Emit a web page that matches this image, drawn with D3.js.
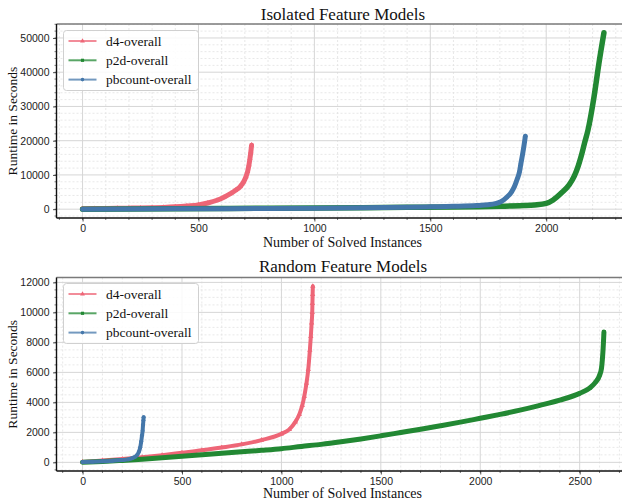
<!DOCTYPE html>
<html><head><meta charset="utf-8">
<script src="https://cdn.jsdelivr.net/npm/d3@7"></script>
<style>body{margin:0;background:#fff}svg{display:block}</style>
</head><body>
<script>
// ---------- DATA ----------
const seriesNames = ["d4-overall", "p2d-overall", "pbcount-overall"];
const seriesColors = ["#EE6677", "#228833", "#4477AA"];
const titles = ["Isolated Feature Models", "Random Feature Models"];

const isoD4 = [[0,150],[50,180],[100,220],[150,260],[200,300],[250,360],[300,430],[350,520],[400,680],[450,930],[500,1250],[540,1800],[580,2600],[610,3500],[640,4600],[660,5500],[680,6600],[695,8000],[705,9500],[712,11000],[718,13000],[722,14800],[726,16800],[729,18700]];
const isoP2d = [[0,0],[200,60],[400,120],[600,200],[800,300],[1000,380],[1200,450],[1400,530],[1600,620],[1700,720],[1800,850],[1900,1050],[1950,1250],[2000,1700],[2030,2700],[2064,4650],[2100,7200],[2122,9800],[2139,12800],[2151,15500],[2165,19200],[2180,23050],[2206,32700],[2227,42400],[2249,51500]];
const isoPb = [[0,0],[200,60],[400,110],[600,160],[800,220],[1000,300],[1200,400],[1400,560],[1500,680],[1600,820],[1700,1050],[1750,1300],[1780,1600],[1805,2200],[1830,3500],[1850,5000],[1863,6600],[1875,8800],[1885,11000],[1891,13400],[1898,16000],[1904,18500],[1910,21300]];

const rndD4 = [[0,30],[100,120],[200,220],[300,340],[400,480],[500,640],[600,800],[700,990],[800,1200],[900,1480],[1000,1900],[1040,2200],[1070,2700],[1090,3200],[1105,3800],[1115,4400],[1126,5270],[1135,6200],[1143,7470],[1148,8400],[1152,9300],[1155,10000],[1156,10600],[1157,11200],[1158,11740]];
const rndP2d = [[0,10],[100,60],[200,130],[300,210],[400,300],[500,400],[600,500],[700,600],[800,700],[900,800],[1000,910],[1100,1060],[1200,1200],[1300,1370],[1400,1560],[1500,1770],[1600,1990],[1700,2210],[1800,2440],[1900,2680],[2000,2940],[2100,3200],[2200,3480],[2300,3800],[2400,4150],[2500,4600],[2550,4950],[2580,5350],[2600,5800],[2610,6300],[2615,7000],[2618,7600],[2620,8100],[2622,8690]];
const rndPb = [[0,20],[50,40],[100,70],[150,100],[200,150],[230,200],[250,280],[265,380],[275,500],[283,700],[290,1000],[295,1400],[299,1800],[302,2100],[304,2500],[306,2800],[307,3010]];

const isoYTicks = [0,10000,20000,30000,40000,50000];
const rndYTicks = [0,2000,4000,6000,8000,10000,12000];
const isoXTicks = [0,500,1000,1500,2000];
const rndXTicks = [0,500,1000,1500,2000,2500];

// ---------- DRAW ----------
const W = 622, H = 502;
const svg = d3.select("body").append("svg").attr("width", W).attr("height", H)
  .style("font-family", "'Liberation Serif', 'Times New Roman', serif");

const symbols = [d3.symbolTriangle, d3.symbolSquare, d3.symbolCircle];

function panel(cfg) {
  const {top, bottom, left, right, series, yTicks, xTicks, yMinor, xMinor, title, titleY, xlabelY, legendY} = cfg;
  const allX = series.flat().map(d => d[0]);
  const allY = series.flat().map(d => d[1]);
  const xmin = d3.min(allX), xmax = d3.max(allX), ymin = d3.min(allY), ymax = d3.max(allY);
  const mx = (xmax - xmin) * 0.05, my = (ymax - ymin) * 0.05;
  const x = d3.scaleLinear().domain([xmin - mx, xmax + mx]).range([left, right]);
  const y = d3.scaleLinear().domain([ymin - my, ymax + my]).range([bottom, top]);
  const g = svg.append("g");
  const clipId = "clip" + top;
  svg.append("clipPath").attr("id", clipId).append("rect")
    .attr("x", left).attr("y", top).attr("width", right - left).attr("height", bottom - top);

  const xMinorVals = d3.range(Math.ceil(x.domain()[0] / xMinor) * xMinor, x.domain()[1], xMinor);
  const yMinorVals = d3.range(Math.ceil(y.domain()[0] / yMinor) * yMinor, y.domain()[1], yMinor);
  // minor grid
  const grid = g.append("g").attr("clip-path", `url(#${clipId})`);
  grid.selectAll(".mgx").data(xMinorVals.filter(v => !xTicks.includes(v))).join("line")
    .attr("x1", d => x(d)).attr("x2", d => x(d)).attr("y1", top).attr("y2", bottom)
    .attr("stroke", "#e2e2e2").attr("stroke-width", 0.8).attr("stroke-dasharray", "2,2");
  grid.selectAll(".mgy").data(yMinorVals.filter(v => !yTicks.includes(v))).join("line")
    .attr("y1", d => y(d)).attr("y2", d => y(d)).attr("x1", left).attr("x2", right)
    .attr("stroke", "#e2e2e2").attr("stroke-width", 0.8).attr("stroke-dasharray", "2,2");
  // major grid
  grid.selectAll(".gx").data(xTicks).join("line")
    .attr("x1", d => x(d)).attr("x2", d => x(d)).attr("y1", top).attr("y2", bottom)
    .attr("stroke", "#d6d6d6").attr("stroke-width", 1);
  grid.selectAll(".gy").data(yTicks).join("line")
    .attr("y1", d => y(d)).attr("y2", d => y(d)).attr("x1", left).attr("x2", right)
    .attr("stroke", "#d6d6d6").attr("stroke-width", 1);

  // series
  const plot = g.append("g").attr("clip-path", `url(#${clipId})`);
  const line = d3.line().curve(d3.curveMonotoneX).x(d => x(d[0])).y(d => y(d[1]));
  series.forEach((s, i) => {
    plot.append("path").datum(s).attr("d", line).attr("fill", "none")
      .attr("stroke", seriesColors[i]).attr("stroke-width", cfg.bandWidth[i])
      .attr("stroke-linejoin", "round").attr("stroke-linecap", "round");
    plot.selectAll(null).data(s).join("path")
      .attr("transform", d => `translate(${x(d[0])},${y(d[1])})`)
      .attr("d", d3.symbol().type(symbols[i]).size(12))
      .attr("fill", seriesColors[i]);
  });

  // axes
  const xAxis = d3.axisBottom(x).tickValues(xTicks).tickSize(3.5).tickPadding(3.5).tickFormat(d3.format("d"));
  const yAxis = d3.axisLeft(y).tickValues(yTicks).tickSize(3.5).tickPadding(3.5).tickFormat(d3.format("d"));
  const xa = g.append("g").attr("transform", `translate(0,${bottom})`).call(xAxis);
  const ya = g.append("g").attr("transform", `translate(${left},0)`).call(yAxis);
  [xa, ya].forEach(a => {
    a.select(".domain").remove();
    a.selectAll("text").attr("font-size", 10.5).attr("fill", "#222").style("font-family", "inherit");
    a.selectAll("line").attr("stroke", "#222").attr("stroke-width", 0.8);
  });
  // minor ticks
  g.append("g").selectAll("line").data(xMinorVals).join("line")
    .attr("x1", d => x(d)).attr("x2", d => x(d)).attr("y1", bottom).attr("y2", bottom + 2)
    .attr("stroke", "#222").attr("stroke-width", 0.6);
  g.append("g").selectAll("line").data(yMinorVals).join("line")
    .attr("y1", d => y(d)).attr("y2", d => y(d)).attr("x1", left).attr("x2", left - 2)
    .attr("stroke", "#222").attr("stroke-width", 0.6);

  // spines
  g.append("line").attr("x1", left).attr("x2", right).attr("y1", top).attr("y2", top)
    .attr("stroke", "#7a7a7a").attr("stroke-width", 1.6);
  g.append("line").attr("x1", left).attr("x2", right).attr("y1", bottom).attr("y2", bottom)
    .attr("stroke", "#111").attr("stroke-width", 1.4);
  g.append("line").attr("x1", left).attr("x2", left).attr("y1", top).attr("y2", bottom)
    .attr("stroke", "#111").attr("stroke-width", 1.4);

  // title & labels
  g.append("text").attr("x", 343).attr("y", titleY).attr("text-anchor", "middle")
    .attr("font-size", 17).attr("fill", "#111").text(title);
  g.append("text").attr("x", 342.5).attr("y", xlabelY).attr("text-anchor", "middle")
    .attr("font-size", 14).attr("fill", "#111").text("Number of Solved Instances");
  g.append("text").attr("transform", `translate(17,${(top + bottom) / 2}) rotate(-90)`)
    .attr("text-anchor", "middle").attr("font-size", 13.5).attr("fill", "#111").text("Runtime in Seconds");

  // legend
  const lg = g.append("g");
  lg.append("rect").attr("x", 63.5).attr("y", legendY).attr("width", 135).attr("height", 60)
    .attr("rx", 3).attr("fill", "#fff").attr("fill-opacity", 0.85).attr("stroke", "#d0d0d0").attr("stroke-width", 1);
  seriesNames.forEach((n, i) => {
    const yy = legendY + 10.5 + i * 19.3;
    lg.append("line").attr("x1", 68.5).attr("x2", 96.5).attr("y1", yy).attr("y2", yy)
      .attr("stroke", seriesColors[i]).attr("stroke-width", 2).attr("stroke-opacity", 0.75);
    lg.append("path").attr("transform", `translate(82.5,${yy})`)
      .attr("d", d3.symbol().type(symbols[i]).size(10)).attr("fill", seriesColors[i]);
    lg.append("text").attr("x", 106).attr("y", yy + 4.5).attr("font-size", 13.5).attr("fill", "#111").text(n);
  });
}

panel({top: 24, bottom: 218, left: 56.5, right: 630,
  series: [isoD4, isoP2d, isoPb], yTicks: isoYTicks, xTicks: isoXTicks, yMinor: 2000, xMinor: 100,
  title: titles[0], titleY: 19.5, xlabelY: 247, legendY: 30.5, bandWidth: [5, 5.5, 5]});
panel({top: 277.5, bottom: 471, left: 56.5, right: 630,
  series: [rndD4, rndP2d, rndPb], yTicks: rndYTicks, xTicks: rndXTicks, yMinor: 500, xMinor: 100,
  title: titles[1], titleY: 272, xlabelY: 498, legendY: 283.5, bandWidth: [4, 5, 4]});
</script>
</body></html>
